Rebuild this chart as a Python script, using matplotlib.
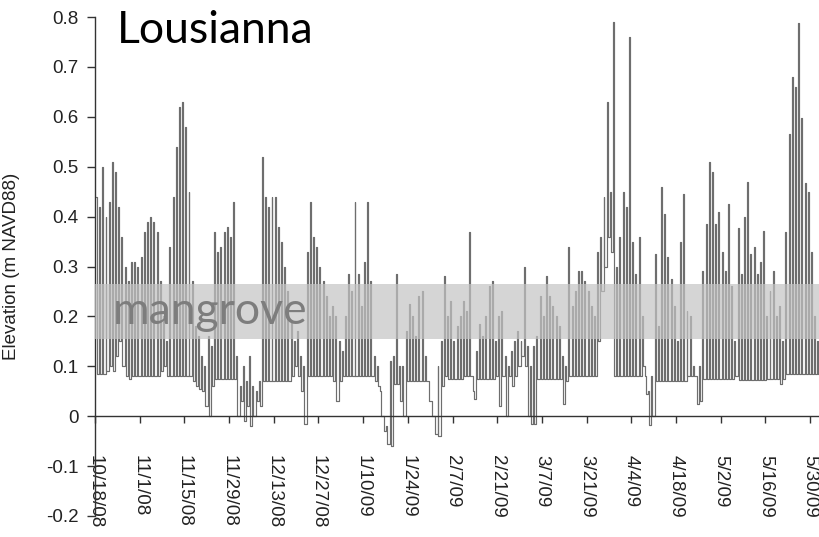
import numpy as np
import matplotlib
matplotlib.use("Agg")
import matplotlib.pyplot as plt

# Daily high / low water elevation (m NAVD88), day 0 = 10/18/08
day_high = [
    0.44, 0.42, 0.50, 0.40, 0.43, 0.51, 0.49, 0.42, 0.36, 0.30,
    0.27, 0.31, 0.31, 0.30, 0.32, 0.37, 0.39, 0.40, 0.39, 0.37,
    0.27, 0.20, 0.15, 0.34, 0.44, 0.54, 0.62, 0.63, 0.58, 0.45,
    0.27, 0.18, 0.16, 0.12, 0.10, 0.16, 0.14, 0.37, 0.33, 0.34,
    0.37, 0.38, 0.36, 0.43, 0.12, 0.06, 0.10, 0.07, 0.12, 0.06,
    0.05, 0.07, 0.52, 0.44, 0.42, 0.44, 0.44, 0.38, 0.35, 0.30,
    0.25, 0.19, 0.15, 0.17, 0.12, 0.10, 0.33, 0.43, 0.36, 0.34,
    0.30, 0.27, 0.24, 0.20, 0.22, 0.20, 0.15, 0.13, 0.20, 0.285,
    0.25, 0.43, 0.285, 0.22, 0.31, 0.43, 0.27, 0.12, 0.10, 0.05,
    0.00, -0.02, 0.11, 0.12, 0.285, 0.10, 0.10, 0.17, 0.225, 0.20,
    0.16, 0.24, 0.25, 0.12, 0.07, 0.03, 0.00, 0.10, 0.15, 0.28,
    0.20, 0.23, 0.15, 0.18, 0.20, 0.23, 0.21, 0.37, 0.05, 0.13,
    0.185, 0.16, 0.20, 0.26, 0.27, 0.15, 0.20, 0.21, 0.12, 0.10,
    0.13, 0.15, 0.17, 0.15, 0.30, 0.14, 0.10, 0.14, 0.16, 0.24,
    0.20, 0.28, 0.24, 0.22, 0.20, 0.18, 0.12, 0.10, 0.34, 0.22,
    0.25, 0.29, 0.29, 0.27, 0.25, 0.22, 0.20, 0.33, 0.36, 0.44,
    0.63, 0.45, 0.79, 0.30, 0.36, 0.45, 0.42, 0.76, 0.35, 0.285,
    0.36, 0.20, 0.08, 0.05, 0.08, 0.325, 0.18, 0.46, 0.405, 0.32,
    0.275, 0.22, 0.15, 0.35, 0.445, 0.21, 0.20, 0.10, 0.08, 0.10,
    0.29, 0.385, 0.51, 0.49, 0.385, 0.41, 0.33, 0.29, 0.425, 0.26,
    0.15, 0.378, 0.285, 0.40, 0.47, 0.325, 0.34, 0.285, 0.31, 0.372,
    0.20, 0.25, 0.29, 0.20, 0.22, 0.15, 0.37, 0.566, 0.68, 0.66,
    0.787, 0.597, 0.468, 0.45, 0.33, 0.20, 0.15, 0.12,
]
day_low = [
    0.085, 0.085, 0.085, 0.09, 0.10, 0.09, 0.12, 0.15, 0.10, 0.08,
    0.075, 0.08, 0.08, 0.08, 0.08, 0.08, 0.08, 0.08, 0.08, 0.08,
    0.09, 0.10, 0.08, 0.08, 0.08, 0.08, 0.08, 0.08, 0.08, 0.08,
    0.07, 0.06, 0.055, 0.05, 0.02, 0.00, 0.06, 0.075, 0.075, 0.075,
    0.075, 0.075, 0.075, 0.075, 0.00, 0.03, -0.01, 0.02, -0.02, 0.00,
    0.03, 0.02, 0.07, 0.07, 0.07, 0.07, 0.07, 0.07, 0.07, 0.07,
    0.07, 0.08, 0.10, 0.08, 0.05, -0.015, 0.08, 0.08, 0.08, 0.08,
    0.08, 0.08, 0.08, 0.08, 0.07, 0.03, 0.07, 0.08, 0.08, 0.08,
    0.08, 0.08, 0.08, 0.08, 0.08, 0.08, 0.08, 0.07, 0.06, 0.00,
    -0.03, -0.055, -0.06, 0.065, 0.065, 0.03, 0.00, 0.07, 0.07, 0.07,
    0.07, 0.07, 0.07, 0.07, 0.03, 0.00, -0.035, -0.04, 0.06, 0.08,
    0.075, 0.075, 0.075, 0.075, 0.075, 0.08, 0.08, 0.08, 0.035, 0.075,
    0.075, 0.075, 0.075, 0.075, 0.075, 0.08, 0.02, 0.08, 0.00, 0.08,
    0.06, 0.08, 0.10, 0.12, 0.10, 0.00, -0.015, -0.015, 0.075, 0.075,
    0.075, 0.075, 0.075, 0.075, 0.075, 0.075, 0.025, 0.07, 0.08, 0.08,
    0.08, 0.08, 0.08, 0.08, 0.08, 0.08, 0.08, 0.15, 0.25, 0.30,
    0.36, 0.33, 0.08, 0.08, 0.08, 0.08, 0.08, 0.08, 0.08, 0.08,
    0.08, 0.10, 0.045, -0.018, 0.00, 0.071, 0.071, 0.071, 0.071, 0.071,
    0.071, 0.071, 0.071, 0.071, 0.071, 0.08, 0.08, 0.08, 0.025, 0.03,
    0.075, 0.075, 0.075, 0.075, 0.075, 0.075, 0.075, 0.075, 0.075, 0.075,
    0.08, 0.072, 0.072, 0.072, 0.072, 0.072, 0.072, 0.072, 0.072, 0.072,
    0.075, 0.075, 0.075, 0.075, 0.065, 0.075, 0.085, 0.085, 0.085, 0.085,
    0.085, 0.085, 0.085, 0.085, 0.085, 0.085, 0.085, 0.085,
]

tick_days = list(range(0, 225, 14))
tick_labels = ['10/18/08', '11/1/08', '11/15/08', '11/29/08', '12/13/08',
               '12/27/08', '1/10/09', '1/24/09', '2/7/09', '2/21/09',
               '3/7/09', '3/21/09', '4/4/09', '4/18/09', '5/2/09',
               '5/16/09', '5/30/09']

mangrove_zone = (0.155, 0.265)

# Build time series: high then low each day
t = []
v = []
for d, (hi, lo) in enumerate(zip(day_high, day_low)):
    t += [d + 0.3, d + 0.6]
    v += [hi, lo]

fig = plt.figure(figsize=(8.19, 5.37), dpi=100)
fig.patch.set_facecolor('white')
ax = fig.add_axes([95 / 819, 1 - 516 / 537, 1 - 95 / 819, (516 - 17) / 537])

ax.plot(t, v, drawstyle='steps-post', color='#6e6e6e', lw=0.85, zorder=2)
ax.axhspan(mangrove_zone[0], mangrove_zone[1], color='#c4c4c4', alpha=0.7,
           lw=0, zorder=3)

ax.set_xlim(0, 226.8)
ax.set_ylim(-0.2, 0.8)

for s in ['top', 'right']:
    ax.spines[s].set_visible(False)
ax.spines['bottom'].set_position(('data', 0))
for s in ['left', 'bottom']:
    ax.spines[s].set_color('#333333')
    ax.spines[s].set_linewidth(1.0)

ax.set_yticks(np.round(np.arange(-0.2, 0.81, 0.1), 1))
ax.set_yticklabels(['-0.2', '-0.1', '0', '0.1', '0.2', '0.3', '0.4', '0.5',
                    '0.6', '0.7', '0.8'])
ax.set_xticks(tick_days)
ax.set_xticklabels(tick_labels)

ax.tick_params(axis='y', direction='out', length=6, width=1, color='#333333',
               pad=6, labelsize=13.5, labelcolor='#222222')
ax.tick_params(axis='x', direction='out', length=5, width=1, color='#333333',
               pad=23, labelsize=13.5, labelcolor='#222222', labelrotation=270)
for lab in ax.get_yticklabels() + ax.get_xticklabels():
    lab.set_family('Liberation Sans')

ax.set_ylabel('Elevation (m NAVD88)', fontsize=13.5, family='Liberation Sans',
              color='#222222')
ax.yaxis.set_label_coords((20 - 95) / 724, 0.5)

ax.text(117 / 819, 1 - 43 / 537, 'Lousianna', transform=fig.transFigure,
        fontsize=32, family='Lato', color='black', ha='left',
        va='baseline', zorder=5)
ax.text(113 / 819, 1 - 324 / 537, 'mangrove', transform=fig.transFigure,
        fontsize=32, family='Lato', color='#7d7d7d', ha='left',
        va='baseline', zorder=5)

fig.savefig('out.png', dpi=100, facecolor='white')
